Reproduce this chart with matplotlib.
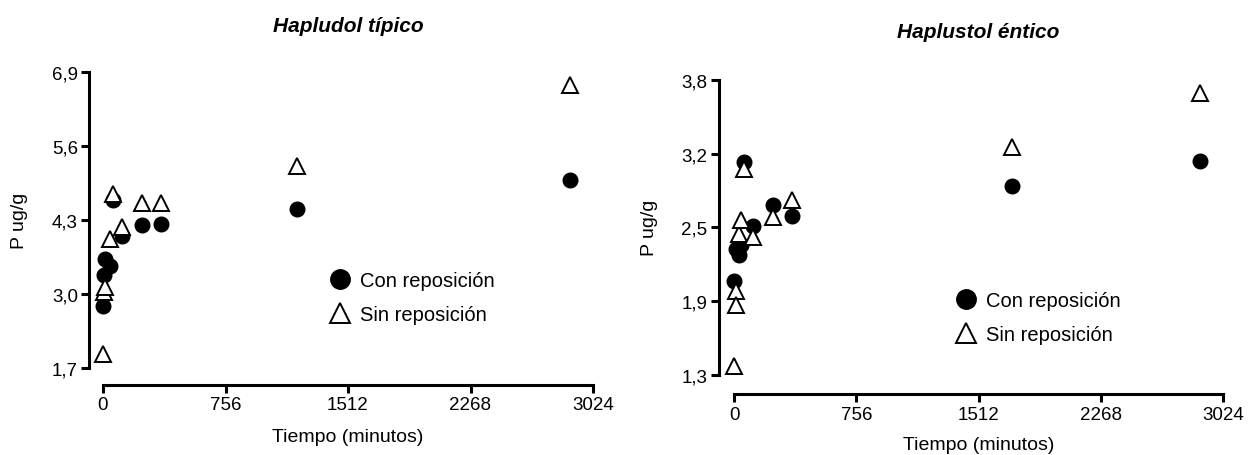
import matplotlib
matplotlib.use("Agg")
import matplotlib.pyplot as plt
from matplotlib.lines import Line2D

plt.rcParams['font.family'] = ['Liberation Sans', 'DejaVu Sans']

# Hapludol típico
hap_con_t = [0, 5, 15, 45, 60, 120, 240, 360, 1200, 2880]
hap_con_p = [2.79, 3.34, 3.62, 3.49, 4.66, 4.02, 4.21, 4.23, 4.50, 5.01]
hap_sin_t = [0, 5, 15, 45, 60, 120, 240, 360, 1200, 2880]
hap_sin_p = [1.95, 3.04, 3.12, 3.97, 4.76, 4.18, 4.59, 4.59, 5.25, 6.67]
hap_yticks = [1.7, 3.0, 4.3, 5.6, 6.9]
hap_ylabels = ['1,7', '3,0', '4,3', '5,6', '6,9']

# Haplustol éntico
hus_con_t = [0, 15, 30, 45, 60, 120, 240, 360, 1720, 2880]
hus_con_p = [2.10, 2.37, 2.32, 2.40, 3.10, 2.56, 2.74, 2.65, 2.90, 3.11]
hus_sin_t = [0, 10, 15, 30, 45, 60, 120, 240, 360, 1720, 2880]
hus_sin_p = [1.38, 2.01, 1.89, 2.49, 2.61, 3.04, 2.47, 2.64, 2.78, 3.23, 3.69]
hus_yticks = [1.3, 1.925, 2.55, 3.175, 3.8]
hus_ylabels = ['1,3', '1,9', '2,5', '3,2', '3,8']

xticks = [0, 756, 1512, 2268, 3024]
xlabels = ['0', '756', '1512', '2268', '3024']

W, H = 1249, 456
fig = plt.figure(figsize=(W / 100, H / 100), dpi=100)


def panel(rect, title, con_t, con_p, sin_t, sin_p, yticks, ylabels,
          left_off, bottom_off, leg_anchor, title_y, xpad):
    ax = fig.add_axes(rect)
    ax.plot(con_t, con_p, linestyle='none', marker='o', ms=10.5,
            mfc='black', mec='black', clip_on=False, zorder=3)
    ax.plot(sin_t, sin_p, linestyle='none', marker='^', ms=11,
            mfc='white', mec='black', mew=1.4, clip_on=False, zorder=4)
    ax.set_xlim(0, 3024)
    ax.set_ylim(yticks[0], yticks[-1])
    ax.set_xticks(xticks)
    ax.set_xticklabels(xlabels)
    ax.set_yticks(yticks)
    ax.set_yticklabels(ylabels)
    for s in ('top', 'right'):
        ax.spines[s].set_visible(False)
    ax.spines['left'].set_position(('outward', left_off))
    ax.spines['bottom'].set_position(('outward', bottom_off))
    ax.spines['left'].set_linewidth(2.2)
    ax.spines['bottom'].set_linewidth(2.2)
    ax.spines['bottom'].set_bounds(0, 3024)
    ax.tick_params(axis='both', width=2.2, length=6, labelsize=13.5,
                   pad=2, color='black', labelcolor='black')
    ax.set_xlabel('Tiempo (minutos)', fontsize=14, labelpad=xpad)
    ax.set_ylabel('P ug/g', fontsize=14, labelpad=17)
    fig.text(rect[0] + rect[2] / 2, title_y, title, ha='center', va='center',
             fontsize=15, fontweight='bold', fontstyle='italic')
    handles = [
        Line2D([], [], linestyle='none', marker='o', ms=14, mfc='black', mec='black'),
        Line2D([], [], linestyle='none', marker='^', ms=15, mfc='white', mec='black', mew=1.4),
    ]
    ax.legend(handles, ['Con reposición', 'Sin reposición'], loc='center left',
              bbox_to_anchor=leg_anchor, frameon=False, fontsize=14.5,
              handlelength=1.0, handletextpad=0.5, labelspacing=0.75,
              borderpad=0, borderaxespad=0)
    return ax


panel([103 / W, 87 / H, 490 / W, 296 / H], 'Hapludol típico',
      hap_con_t, hap_con_p, hap_sin_t, hap_sin_p, hap_yticks, hap_ylabels,
      left_off=10, bottom_off=12, leg_anchor=(0.463, 0.237), title_y=1 - 26 / H,
      xpad=11)

panel([734 / W, 80 / H, 489 / W, 295.3 / H], 'Haplustol éntico',
      hus_con_t, hus_con_p, hus_sin_t, hus_sin_p, hus_yticks, hus_ylabels,
      left_off=11, bottom_off=14, leg_anchor=(0.453, 0.195), title_y=1 - 33 / H,
      xpad=10)

fig.savefig('out.png', dpi=100)
